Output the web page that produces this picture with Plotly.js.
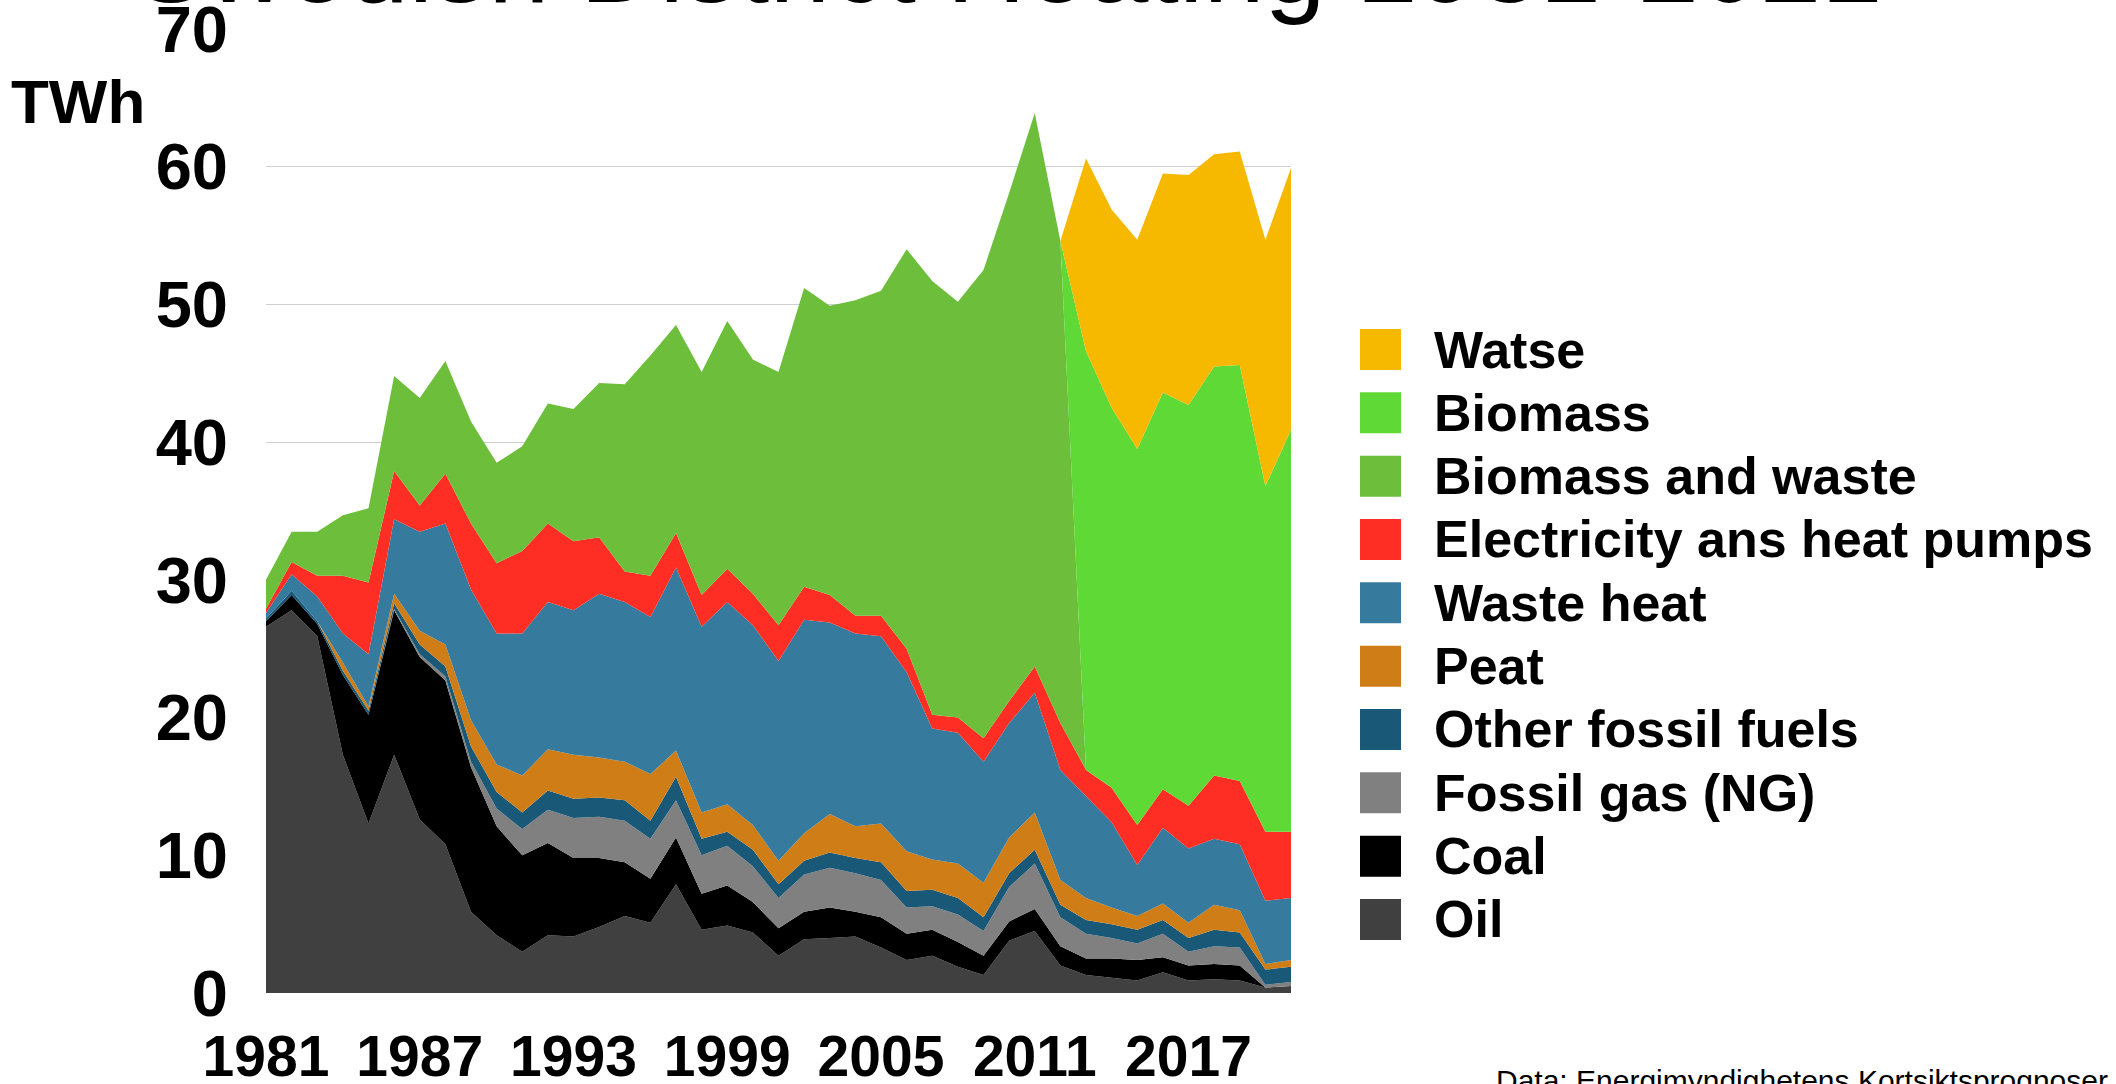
<!DOCTYPE html>
<html>
<head>
<meta charset="utf-8">
<script src="https://cdn.plot.ly/plotly-3.0.1.min.js"></script>
<style>
html, body { margin: 0; padding: 0; background: #ffffff; }
#chart { width: 2116px; height: 1084px; }
</style>
</head>
<body>
<div id="chart"></div>
<script>
// ---------- data (TWh) ----------
const years = [1981, 1982, 1983, 1984, 1985, 1986, 1987, 1988, 1989, 1990,
               1991, 1992, 1993, 1994, 1995, 1996, 1997, 1998, 1999, 2000,
               2001, 2002, 2003, 2004, 2005, 2006, 2007, 2008, 2009, 2010,
               2011, 2012, 2013, 2014, 2015, 2016, 2017, 2018, 2019, 2020, 2021];

const oil = [26.6, 27.8, 25.9, 17.3, 12.3, 17.3, 12.6, 10.8, 5.9, 4.2,
             3.0, 4.2, 4.1, 4.8, 5.6, 5.1, 7.9, 4.6, 4.9, 4.4,
             2.7, 3.9, 4.0, 4.1, 3.3, 2.4, 2.7, 1.9, 1.3, 3.8,
             4.5, 2.0, 1.3, 1.1, 0.9, 1.5, 0.9, 1.0, 0.9, 0.4, 0.5];

const coal = [0.4, 1.1, 0.9, 5.8, 7.9, 10.5, 11.8, 11.9, 10.5, 7.9,
              7.0, 6.7, 5.7, 5.0, 3.9, 3.2, 3.4, 2.6, 2.9, 2.2,
              2.0, 2.0, 2.2, 1.8, 2.2, 1.9, 1.9, 1.8, 1.4, 1.4,
              1.6, 1.4, 1.2, 1.4, 1.5, 1.1, 1.1, 1.1, 1.1, 0, 0];

const fossilGas = [0, 0, 0, 0, 0, 0.1, 0.2, 0.3, 0.4, 1.3,
                   1.9, 2.4, 2.9, 3.0, 3.0, 2.9, 2.7, 2.8, 2.9, 2.6,
                   2.2, 2.7, 2.9, 2.8, 2.7, 1.9, 1.7, 2.0, 1.8, 2.5,
                   3.3, 2.1, 1.8, 1.5, 1.2, 1.7, 1.0, 1.3, 1.3, 0.2, 0.3];

const otherFossil = [0.2, 0.3, 0.2, 0.3, 0.3, 0.4, 0.7, 0.7, 1.1, 1.2,
                     1.2, 1.4, 1.4, 1.4, 1.5, 1.3, 1.7, 1.2, 1.0, 1.2,
                     1.0, 1.0, 1.1, 1.1, 1.3, 1.2, 1.2, 1.2, 1.0, 1.0,
                     1.0, 0.9, 1.0, 1.0, 1.0, 1.0, 1.0, 1.2, 1.1, 1.1, 1.1];

const peat = [0, 0, 0, 0.6, 0.3, 0.7, 1.0, 1.6, 1.9, 2.0,
              2.7, 3.0, 3.2, 2.9, 2.8, 3.4, 1.9, 1.9, 2.0, 1.8,
              1.7, 2.0, 2.8, 2.3, 2.8, 2.9, 2.2, 2.5, 2.5, 2.6,
              2.7, 1.8, 1.6, 1.2, 1.0, 1.2, 1.1, 1.8, 1.6, 0.4, 0.5];

const wasteHeat = [0.4, 1.2, 1.8, 2.1, 3.8, 5.4, 7.2, 8.8, 9.5, 9.5,
                   10.3, 10.7, 10.5, 11.9, 11.6, 11.4, 13.3, 13.5, 14.7, 14.5,
                   14.5, 15.5, 13.9, 14.0, 13.6, 13.0, 9.5, 9.5, 8.8, 8.3,
                   8.7, 8.0, 7.4, 6.2, 3.7, 5.5, 5.4, 4.8, 4.8, 4.6, 4.5];

const electricityHeatPumps = [0.3, 0.9, 1.5, 4.2, 5.2, 3.5, 1.9, 3.6, 4.8, 5.1,
                              6.0, 5.7, 5.0, 4.1, 2.2, 3.0, 2.5, 2.3, 2.4, 2.3,
                              2.6, 2.4, 2.0, 1.3, 1.5, 1.7, 1.0, 1.1, 1.7, 1.6,
                              1.9, 3.4, 1.9, 2.5, 2.9, 2.8, 3.1, 4.6, 4.6, 5.0, 4.8];

const biomassAndWaste = [2.1, 2.2, 3.2, 4.4, 5.4, 6.9, 7.8, 8.2, 7.4, 7.3,
                         7.6, 8.7, 9.6, 11.2, 13.6, 16.0, 15.1, 16.2, 18.0, 17.0,
                         18.4, 21.7, 21.0, 22.9, 23.6, 29.0, 31.5, 30.2, 34.0, 36.9,
                         40.2, 35.0, 0, 0, 0, 0, 0, 0, 0, 0, 0];

const biomass = [0, 0, 0, 0, 0, 0, 0, 0, 0, 0,
                 0, 0, 0, 0, 0, 0, 0, 0, 0, 0,
                 0, 0, 0, 0, 0, 0, 0, 0, 0, 0,
                 0, 0, 30.4, 27.6, 27.3, 28.8, 29.1, 29.7, 30.2, 25.1, 29.2];

const watse = [0, 0, 0, 0, 0, 0, 0, 0, 0, 0,
               0, 0, 0, 0, 0, 0, 0, 0, 0, 0,
               0, 0, 0, 0, 0, 0, 0, 0, 0, 0,
               0, 0, 14.0, 14.4, 15.2, 15.9, 16.7, 15.4, 15.5, 17.9, 19.0];

// stack order: bottom -> top
const seriesNames = ['Oil', 'Coal', 'Fossil gas (NG)', 'Other fossil fuels', 'Peat',
                     'Waste heat', 'Electricity ans heat pumps', 'Biomass and waste', 'Biomass', 'Watse'];
const seriesValues = [oil, coal, fossilGas, otherFossil, peat,
                      wasteHeat, electricityHeatPumps, biomassAndWaste, biomass, watse];
const seriesColors = ['#404040', '#000000', '#808080', '#1a5878', '#cf7d16',
                      '#367b9e', '#ff2e24', '#6dbe3b', '#5fd935', '#f6b900'];

const xTickVals = [1981, 1987, 1993, 1999, 2005, 2011, 2017];
const yTickVals = [0, 10, 20, 30, 40, 50, 60, 70];

const titleText = 'Swedish District Heating 1981-2021';
const unitText = 'TWh';
const sourceText = 'Data: Energimyndighetens Kortsiktsprognoser';

// ---------- layout helpers ----------
const W = 2116, H = 1084;
const plotL = 266, plotR = 1291, plotT = 29, plotB = 993;
const px2x = (x) => (x - plotL) / (plotR - plotL);
const px2y = (y) => (plotB - y) / (plotB - plotT);
const FONT = 'Liberation Sans, Arial, Helvetica, sans-serif';

const traces = seriesValues.map((vals, i) => ({
  x: years,
  y: vals,
  type: 'scatter',
  mode: 'none',
  stackgroup: 'one',
  fill: 'tonexty',
  fillcolor: seriesColors[i],
  line: { width: 0 },
  name: seriesNames[i],
  showlegend: false,
  hovertemplate: '%{x}: %{y} TWh<extra>' + seriesNames[i] + '</extra>'
}));

// manual legend (square swatches), top to bottom = reverse stack order
const shapes = [];
const annotations = [];
const legendTop = 349.5, legendPitch = 63.33, sw = 41;
for (let k = 0; k < seriesNames.length; k++) {
  const i = seriesNames.length - 1 - k;
  const cy = legendTop + k * legendPitch;
  shapes.push({
    type: 'rect', xref: 'paper', yref: 'paper',
    x0: px2x(1360), x1: px2x(1360 + sw),
    y0: px2y(cy + sw / 2), y1: px2y(cy - sw / 2),
    fillcolor: seriesColors[i], line: { width: 0 }
  });
  annotations.push({
    text: seriesNames[i], xref: 'paper', yref: 'paper',
    x: px2x(1432), y: px2y(cy), xanchor: 'left', yanchor: 'middle',
    showarrow: false,
    font: { family: FONT, size: 52, color: '#000000', weight: 'bold' }
  });
}

annotations.push({
  text: unitText, xref: 'paper', yref: 'paper',
  x: px2x(78), y: px2y(102), xanchor: 'center', yanchor: 'middle',
  showarrow: false,
  font: { family: FONT, size: 62, color: '#000000', weight: 'bold' }
});

annotations.push({
  text: sourceText, xref: 'paper', yref: 'paper',
  x: px2x(1494), y: px2y(1062), xanchor: 'left', yanchor: 'top',
  showarrow: false,
  font: { family: FONT, size: 30, color: '#000000' }
});

const layout = {
  width: W, height: H,
  paper_bgcolor: '#ffffff', plot_bgcolor: '#ffffff',
  margin: { l: plotL, r: W - plotR, t: plotT, b: H - plotB, pad: 0 },
  showlegend: false,
  title: {
    text: titleText,
    font: { family: FONT, size: 110, color: '#000000' },
    x: 1008 / W, xref: 'container', xanchor: 'center',
    y: 1 - 2 / H, yref: 'container', yanchor: 'bottom',
    pad: { t: 0, b: 0, l: 0, r: 0 }
  },
  xaxis: {
    range: [1981, 2021],
    tickmode: 'array', tickvals: xTickVals, ticktext: xTickVals.map(String),
    showgrid: false, zeroline: false, showline: false, ticks: '',
    ticklabelstandoff: 25,
    ticklabeloverflow: 'allow',
    tickfont: { family: FONT, size: 57, color: '#000000', weight: 'bold' }
  },
  yaxis: {
    range: [0, 70],
    tickmode: 'array', tickvals: yTickVals, ticktext: yTickVals.map(String),
    showgrid: true, gridcolor: '#cfcfcf', gridwidth: 1,
    zeroline: false, showline: false, ticks: '',
    ticklabelstandoff: 37,
    ticklabeloverflow: 'allow',
    tickfont: { family: FONT, size: 65, color: '#000000', weight: 'bold' }
  },
  shapes: shapes,
  annotations: annotations
};

Plotly.newPlot('chart', traces, layout, { staticPlot: true, displayModeBar: false });
</script>
</body>
</html>
